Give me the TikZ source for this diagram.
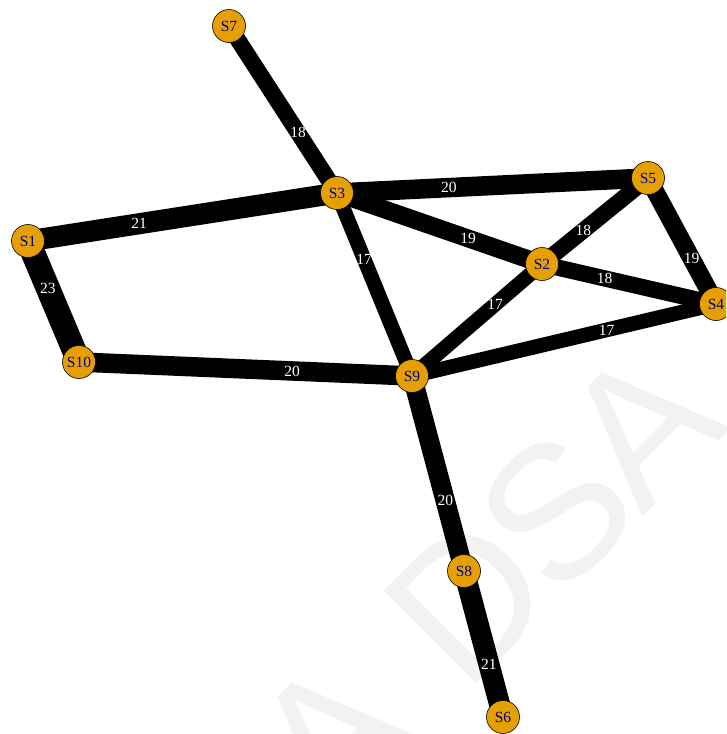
\documentclass[tikz,border=0pt]{standalone}
\usepackage{fontspec}
\setmainfont{Liberation Serif}
\newfontfamily\markfont{Liberation Sans}
\usetikzlibrary{backgrounds}
\definecolor{stationfill}{HTML}{E69F00}
\definecolor{stationtext}{HTML}{00008B}
\definecolor{markgray}{HTML}{F2F2F2}

\begin{document}
\begin{tikzpicture}[
    x=1pt, y=-1pt,
    station/.style={circle, draw=black, line width=0.6pt, fill=stationfill, minimum size=33pt, inner sep=0pt, font=\fontsize{15.5}{16}\selectfont, text=stationtext},
    link/.style={draw=black, line width={1.6*#1-12.5}},
    weight/.style={pos=0.64, inner sep=0pt, font=\fontsize{15.5}{16}\selectfont, text=white},
    watermark/.style={rotate=45, anchor=base west, inner sep=0pt, text=markgray, font=\markfont\fontsize{190}{190}\selectfont}
]
    \path [use as bounding box, clip] (0,0) rectangle (726,734);

    \node (s1) [station] at (28,241) {S1};
    \node (s2) [station] at (542,264) {S2};
    \node (s3) [station] at (337,193) {S3};
    \node (s4) [station] at (716,304) {S4};
    \node (s5) [station] at (648,178) {S5};
    \node (s6) [station] at (503,717) {S6};
    \node (s7) [station] at (229,26) {S7};
    \node (s8) [station] at (464,571) {S8};
    \node (s9) [station] at (412,376) {S9};
    \node (s10) [station] at (79,362) {S10};

    \begin{scope}[on background layer]
        \node (mark) [watermark] at (332,828) {A\kern62pt D\kern-7pt S\kern-7pt A};

        \draw [link=18] (s7.center) -- node[weight] {18} (s3.center);
        \draw [link=21] (s3.center) -- node[weight] {21} (s1.center);
        \draw [link=20] (s5.center) -- node[weight] {20} (s3.center);
        \draw [link=19] (s3.center) -- node[weight] {19} (s2.center);
        \draw [link=17] (s9.center) -- node[weight] {17} (s3.center);
        \draw [link=23] (s10.center) -- node[weight, pos=0.61] {23} (s1.center);
        \draw [link=20] (s10.center) -- node[weight] {20} (s9.center);
        \draw [link=18] (s5.center) -- node[weight, pos=0.61] {18} (s2.center);
        \draw [link=19] (s5.center) -- node[weight] {19} (s4.center);
        \draw [link=18] (s4.center) -- node[weight] {18} (s2.center);
        \draw [link=17] (s9.center) -- node[weight] {17} (s2.center);
        \draw [link=17] (s9.center) -- node[weight] {17} (s4.center);
        \draw [link=20] (s9.center) -- node[weight] {20} (s8.center);
        \draw [link=21] (s8.center) -- node[weight] {21} (s6.center);
    \end{scope}
\end{tikzpicture}
\end{document}
